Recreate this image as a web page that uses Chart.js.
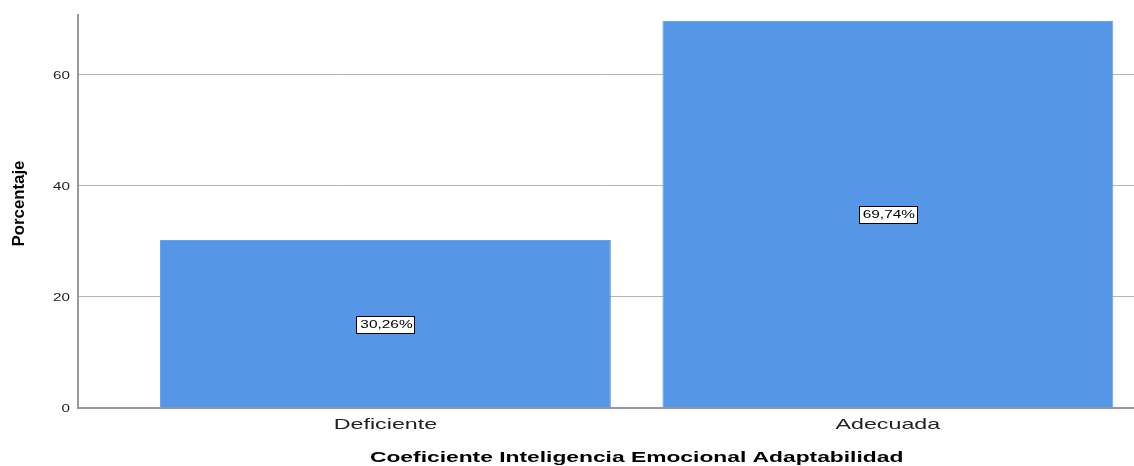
<!DOCTYPE html>
<html>
<head>
    <title>Coeficiente Inteligencia Emocional Adaptabilidad</title>
    <script src="https://cdn.jsdelivr.net/npm/chart.js"></script>
    <style>
        body { margin: 0; background: #fff; }
        #wrap { width: 1134px; height: 466px; overflow: hidden; }
    </style>
</head>
<body>
<div id="wrap"><canvas id="chart" width="1134" height="466"></canvas></div>
<script>
const categories = ['Deficiente', 'Adecuada'];
const percentages = [30.26, 69.74];
const valueLabels = ['30,26%', '69,74%'];
const yTicks = [0, 20, 40, 60];
const xTitle = 'Coeficiente Inteligencia Emocional Adaptabilidad';
const yTitle = 'Porcentaje';

const FONT = '"Liberation Sans", Arial, sans-serif';

// SPSS output uses horizontally stretched text, so all text is drawn here with a scale
function wideText(ctx, text, x, y, sx, align) {
    ctx.save();
    ctx.translate(x, y);
    ctx.scale(sx, 1);
    ctx.textAlign = align;
    ctx.fillText(text, 0, 0);
    ctx.restore();
}

const spssText = {
    id: 'spssText',
    afterDatasetsDraw(chart) {
        const ctx = chart.ctx;
        const meta = chart.getDatasetMeta(0);
        const xs = chart.scales.x, ys = chart.scales.y;
        ctx.save();
        ctx.textBaseline = 'middle';
        ctx.fillStyle = '#222';

        // y tick labels
        ctx.font = '11px ' + FONT;
        yTicks.forEach(v => wideText(ctx, String(v), ys.right - 8, ys.getPixelForValue(v) + 1, 1.38, 'right'));

        // x tick labels
        ctx.font = '15px ' + FONT;
        categories.forEach((c, i) => wideText(ctx, c, xs.getPixelForValue(i), xs.top + 17, 1.55, 'center'));

        // value labels in boxes
        ctx.font = '11px ' + FONT;
        meta.data.forEach((bar, i) => {
            const y = Math.round(ys.getPixelForValue(percentages[i] / 2));
            const w = Math.round(ctx.measureText(valueLabels[i]).width * 1.4 + 6);
            const h = 17;
            const x0 = Math.round(bar.x - w / 2);
            ctx.fillStyle = '#fff';
            ctx.fillRect(x0, y - 8, w, h);
            ctx.strokeStyle = '#000';
            ctx.lineWidth = 1;
            ctx.strokeRect(x0 + 0.5, y - 8 + 0.5, w, h);
            ctx.fillStyle = '#000';
            wideText(ctx, valueLabels[i], bar.x + 1, y + 1, 1.4, 'center');
        });

        // axis titles
        ctx.fillStyle = '#000';
        ctx.font = 'bold 15px ' + FONT;
        wideText(ctx, xTitle, xs.getPixelForValue(0.5), 458, 1.52, 'center');

        ctx.font = 'bold 16px ' + FONT;
        ctx.save();
        ctx.translate(20, (ys.top + ys.bottom) / 2 - 8);
        ctx.rotate(-Math.PI / 2);
        wideText(ctx, yTitle, 0, 0, 1.05, 'center');
        ctx.restore();

        ctx.restore();
    }
};

new Chart(document.getElementById('chart').getContext('2d'), {
    type: 'bar',
    data: {
        datasets: [{
            data: categories.map((c, i) => ({ x: i, y: percentages[i] })),
            backgroundColor: '#5596e6',
            borderColor: '#6aa3ea',
            borderWidth: 1,
            barPercentage: 0.8975,
            categoryPercentage: 1
        }]
    },
    options: {
        responsive: false,
        animation: false,
        layout: { padding: { top: 15, right: 0, left: 0, bottom: 0 } },
        plugins: { legend: { display: false }, tooltip: { enabled: false } },
        scales: {
            x: {
                type: 'linear',
                offset: false,
                min: -0.612,
                max: 1.49,
                afterBuildTicks: axis => { axis.ticks = categories.map((c, i) => ({ value: i })); },
                afterFit: axis => { axis.height = 58; },
                grid: { display: false },
                border: { display: true, color: '#999', width: 2 },
                ticks: { display: false }
            },
            y: {
                min: 0,
                max: 70.8,
                afterFit: axis => { axis.width = 78; },
                afterBuildTicks: axis => { axis.ticks = yTicks.map(v => ({ value: v })); },
                grid: { color: '#b4b4b4', lineWidth: 1, drawTicks: false },
                border: { display: true, color: '#999', width: 2 },
                ticks: { display: false }
            }
        }
    },
    plugins: [spssText]
});
</script>
</body>
</html>
